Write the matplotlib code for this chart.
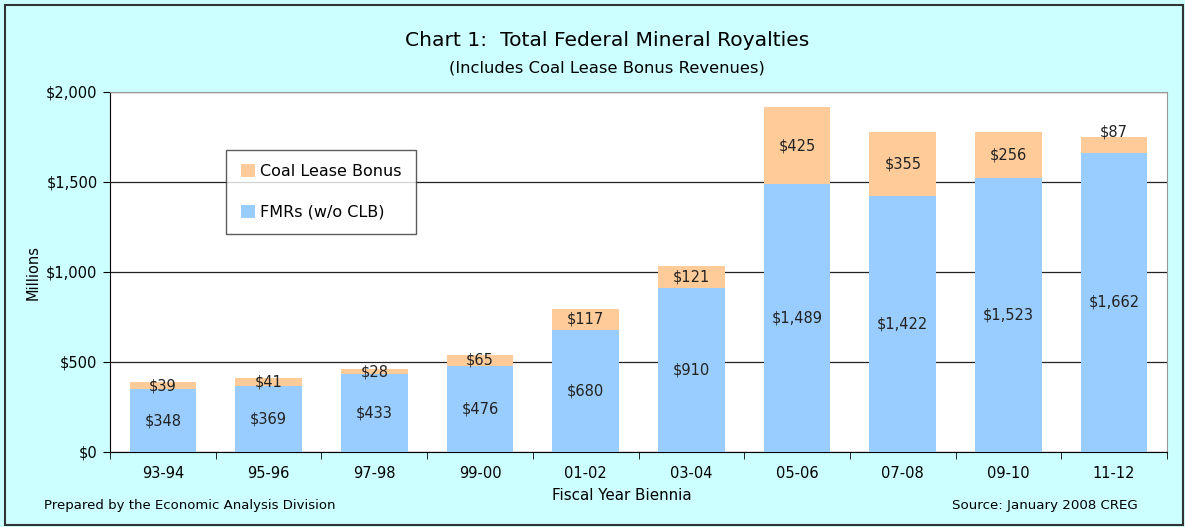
import matplotlib.pyplot as plt
from matplotlib.patches import Rectangle
import numpy as np

years = ['93-94', '95-96', '97-98', '99-00', '01-02',
         '03-04', '05-06', '07-08', '09-10', '11-12']
fmr = [348, 369, 433, 476, 680, 910, 1489, 1422, 1523, 1662]
clb = [39, 41, 28, 65, 117, 121, 425, 355, 256, 87]

blue = '#99CCFF'
orange = '#FFCC99'
bg = '#CCFFFF'

plt.rcParams['font.family'] = 'DejaVu Sans'

fig = plt.figure(figsize=(11.85, 5.27), dpi=100, facecolor=bg)
ax = fig.add_axes([110 / 1185, 1 - 452 / 527, 1057 / 1185, 360 / 527])
ax.set_facecolor('white')

x = np.arange(len(years))
w = 0.63
ax.bar(x, fmr, w, color=blue, label='FMRs (w/o CLB)', zorder=3)
ax.bar(x, clb, w, bottom=fmr, color=orange, label='Coal Lease Bonus', zorder=3)

for i in range(len(years)):
    ax.text(x[i], fmr[i] / 2, '$' + format(fmr[i], ','), ha='center',
            va='center', fontsize=10.5, color='#222222', zorder=4)
    ytxt = fmr[i] + clb[i] / 2
    if clb[i] < 100 and i == len(years) - 1:
        ytxt = fmr[i] + clb[i] + 30
    ax.text(x[i], ytxt, '$' + format(clb[i], ','), ha='center',
            va='center', fontsize=10.5, color='#222222', zorder=4)

ax.set_xlim(-0.5, len(years) - 0.5)
ax.set_ylim(0, 2000)
ax.set_yticks([0, 500, 1000, 1500, 2000])
ax.set_yticklabels(['$0', '$500', '$1,000', '$1,500', '$2,000'])
ax.set_xticks(x)
ax.set_xticklabels(years)
ax.set_xticks(np.arange(len(years) + 1) - 0.5, minor=True)
ax.tick_params(axis='x', which='major', length=0, pad=10, labelsize=10.5)
ax.tick_params(axis='x', which='minor', length=5, direction='out')
ax.tick_params(axis='y', length=5, direction='out', labelsize=10.5, pad=4)
ax.yaxis.grid(True, color='#222222', linewidth=0.9, zorder=0)

for s in ['top', 'right']:
    ax.spines[s].set_color('#999999')
for s in ['left', 'bottom']:
    ax.spines[s].set_color('black')

ax.set_ylabel('Millions', fontsize=10.5, labelpad=4)

handles, labels = ax.get_legend_handles_labels()
leg = ax.legend(handles[::-1], labels[::-1], loc='upper left',
                bbox_to_anchor=(0.11, 0.84), fontsize=11.5, frameon=True,
                fancybox=False, edgecolor='#333333', borderpad=0.9,
                labelspacing=1.6, handlelength=0.9, handleheight=0.9,
                handletextpad=0.3, borderaxespad=0)
leg.get_frame().set_linewidth(1.0)
leg.set_zorder(5)

fig.text(0.512, 1 - 40 / 527, 'Chart 1:  Total Federal Mineral Royalties',
         ha='center', va='center', fontsize=14.6)
fig.text(0.512, 1 - 68 / 527, '(Includes Coal Lease Bonus Revenues)',
         ha='center', va='center', fontsize=11.8)
fig.text(622 / 1185, 1 - 495 / 527, 'Fiscal Year Biennia',
         ha='center', va='center', fontsize=10.9)
fig.text(44 / 1185, 1 - 505 / 527, 'Prepared by the Economic Analysis Division',
         ha='left', va='center', fontsize=9.5)
fig.text(1138 / 1185, 1 - 505 / 527, 'Source: January 2008 CREG',
         ha='right', va='center', fontsize=9.6)

fig.patches.append(Rectangle((5 / 1185, 2 / 527), 1178 / 1185, 520 / 527,
                             transform=fig.transFigure, fill=False,
                             edgecolor='#333333', linewidth=1.5))

fig.savefig('out.png', dpi=100, facecolor=bg)
